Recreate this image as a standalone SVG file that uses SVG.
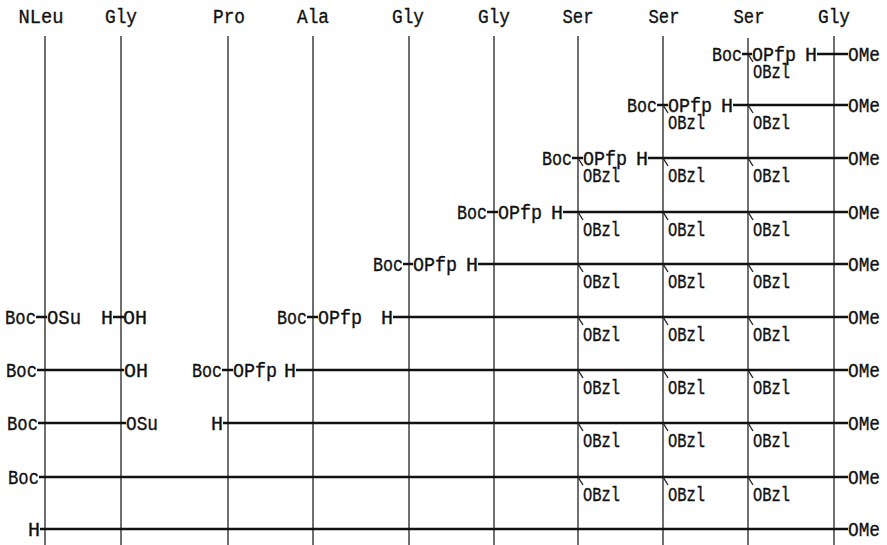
<svg xmlns="http://www.w3.org/2000/svg" width="887" height="545" viewBox="0 0 887 545">
<style>
.t{font-family:"Liberation Mono","DejaVu Sans Mono",monospace;font-size:20px;fill:#111;stroke:#111;stroke-width:0.35}
.hd{text-anchor:middle}
.h{stroke:#111;stroke-width:2.5;fill:none}
.v{stroke:#222;stroke-width:1.3;fill:none}
.k{stroke:#222;stroke-width:1.4;fill:none}
</style>
<defs>
<g id="obzl"><path class="k" d="M0 0 L5 8"/><text class="t" x="5" y="24" textLength="37" lengthAdjust="spacingAndGlyphs">OBzl</text></g>
</defs>
<rect width="887" height="545" fill="#fff"/>
<g id="headers">
<text class="t hd" x="41" y="23" textLength="45" lengthAdjust="spacingAndGlyphs">NLeu</text>
<text class="t hd" x="121" y="23" textLength="32" lengthAdjust="spacingAndGlyphs">Gly</text>
<text class="t hd" x="229" y="23" textLength="32" lengthAdjust="spacingAndGlyphs">Pro</text>
<text class="t hd" x="313" y="23" textLength="32" lengthAdjust="spacingAndGlyphs">Ala</text>
<text class="t hd" x="408" y="23" textLength="32" lengthAdjust="spacingAndGlyphs">Gly</text>
<text class="t hd" x="494" y="23" textLength="32" lengthAdjust="spacingAndGlyphs">Gly</text>
<text class="t hd" x="578" y="23" textLength="31" lengthAdjust="spacingAndGlyphs">Ser</text>
<text class="t hd" x="664" y="23" textLength="31" lengthAdjust="spacingAndGlyphs">Ser</text>
<text class="t hd" x="749" y="23" textLength="31" lengthAdjust="spacingAndGlyphs">Ser</text>
<text class="t hd" x="834" y="23" textLength="32" lengthAdjust="spacingAndGlyphs">Gly</text>
</g>
<g id="connectors">
<g id="columns">
<line class="v" x1="45" y1="36" x2="45" y2="545"/>
<line class="v" x1="121" y1="36" x2="121" y2="545"/>
<line class="v" x1="228" y1="36" x2="228" y2="545"/>
<line class="v" x1="313" y1="36" x2="313" y2="545"/>
<line class="v" x1="409" y1="36" x2="409" y2="545"/>
<line class="v" x1="494" y1="36" x2="494" y2="545"/>
<line class="v" x1="578" y1="36" x2="578" y2="545"/>
<line class="v" x1="663" y1="36" x2="663" y2="545"/>
<line class="v" x1="748" y1="38" x2="748" y2="545"/>
<line class="v" x1="834" y1="36" x2="834" y2="545"/>
</g>
<g id="bonds">
<line class="h" x1="742" y1="54" x2="752" y2="54"/>
<line class="h" x1="817" y1="54" x2="848" y2="54"/>
<line class="h" x1="657" y1="105" x2="668" y2="105"/>
<line class="h" x1="733" y1="105" x2="848" y2="105"/>
<line class="h" x1="572" y1="158" x2="583" y2="158"/>
<line class="h" x1="648" y1="158" x2="848" y2="158"/>
<line class="h" x1="487" y1="212" x2="498" y2="212"/>
<line class="h" x1="563" y1="212" x2="848" y2="212"/>
<line class="h" x1="403" y1="264" x2="413" y2="264"/>
<line class="h" x1="478" y1="264" x2="848" y2="264"/>
<line class="h" x1="36" y1="317" x2="47" y2="317"/>
<line class="h" x1="113" y1="317" x2="124" y2="317"/>
<line class="h" x1="307" y1="317" x2="318" y2="317"/>
<line class="h" x1="393" y1="317" x2="848" y2="317"/>
<line class="h" x1="37" y1="370" x2="124" y2="370"/>
<line class="h" x1="222" y1="370" x2="233" y2="370"/>
<line class="h" x1="296" y1="370" x2="848" y2="370"/>
<line class="h" x1="38" y1="423" x2="126" y2="423"/>
<line class="h" x1="223" y1="423" x2="848" y2="423"/>
<line class="h" x1="39" y1="477" x2="848" y2="477"/>
<line class="h" x1="40" y1="529" x2="848" y2="529"/>
</g>
</g>
<g id="row1">
<text class="t" x="712" y="61" textLength="30" lengthAdjust="spacingAndGlyphs">Boc</text>
<text class="t" x="752" y="61" textLength="44" lengthAdjust="spacingAndGlyphs">OPfp</text>
<text class="t" x="805" y="61" textLength="12" lengthAdjust="spacingAndGlyphs">H</text>
<text class="t" x="848" y="61" textLength="32" lengthAdjust="spacingAndGlyphs">OMe</text>
<use href="#obzl" x="748" y="54"/>
</g>
<g id="row2">
<text class="t" x="627" y="112" textLength="30" lengthAdjust="spacingAndGlyphs">Boc</text>
<text class="t" x="668" y="112" textLength="44" lengthAdjust="spacingAndGlyphs">OPfp</text>
<text class="t" x="721" y="112" textLength="12" lengthAdjust="spacingAndGlyphs">H</text>
<text class="t" x="848" y="112" textLength="32" lengthAdjust="spacingAndGlyphs">OMe</text>
<use href="#obzl" x="663" y="105"/>
<use href="#obzl" x="748" y="105"/>
</g>
<g id="row3">
<text class="t" x="542" y="165" textLength="30" lengthAdjust="spacingAndGlyphs">Boc</text>
<text class="t" x="583" y="165" textLength="44" lengthAdjust="spacingAndGlyphs">OPfp</text>
<text class="t" x="636" y="165" textLength="12" lengthAdjust="spacingAndGlyphs">H</text>
<text class="t" x="848" y="165" textLength="32" lengthAdjust="spacingAndGlyphs">OMe</text>
<use href="#obzl" x="578" y="158"/>
<use href="#obzl" x="663" y="158"/>
<use href="#obzl" x="748" y="158"/>
</g>
<g id="row4">
<text class="t" x="457" y="219" textLength="30" lengthAdjust="spacingAndGlyphs">Boc</text>
<text class="t" x="498" y="219" textLength="44" lengthAdjust="spacingAndGlyphs">OPfp</text>
<text class="t" x="551" y="219" textLength="12" lengthAdjust="spacingAndGlyphs">H</text>
<text class="t" x="848" y="219" textLength="32" lengthAdjust="spacingAndGlyphs">OMe</text>
<use href="#obzl" x="578" y="212"/>
<use href="#obzl" x="663" y="212"/>
<use href="#obzl" x="748" y="212"/>
</g>
<g id="row5">
<text class="t" x="373" y="271" textLength="30" lengthAdjust="spacingAndGlyphs">Boc</text>
<text class="t" x="413" y="271" textLength="44" lengthAdjust="spacingAndGlyphs">OPfp</text>
<text class="t" x="466" y="271" textLength="12" lengthAdjust="spacingAndGlyphs">H</text>
<text class="t" x="848" y="271" textLength="32" lengthAdjust="spacingAndGlyphs">OMe</text>
<use href="#obzl" x="578" y="264"/>
<use href="#obzl" x="663" y="264"/>
<use href="#obzl" x="748" y="264"/>
</g>
<g id="row6">
<text class="t" x="5" y="324" textLength="31" lengthAdjust="spacingAndGlyphs">Boc</text>
<text class="t" x="47" y="324" textLength="34" lengthAdjust="spacingAndGlyphs">OSu</text>
<text class="t" x="101" y="324" textLength="12" lengthAdjust="spacingAndGlyphs">H</text>
<text class="t" x="123" y="324" textLength="24" lengthAdjust="spacingAndGlyphs">OH</text>
<text class="t" x="277" y="324" textLength="30" lengthAdjust="spacingAndGlyphs">Boc</text>
<text class="t" x="318" y="324" textLength="44" lengthAdjust="spacingAndGlyphs">OPfp</text>
<text class="t" x="381" y="324" textLength="12" lengthAdjust="spacingAndGlyphs">H</text>
<text class="t" x="848" y="324" textLength="32" lengthAdjust="spacingAndGlyphs">OMe</text>
<use href="#obzl" x="578" y="317"/>
<use href="#obzl" x="663" y="317"/>
<use href="#obzl" x="748" y="317"/>
</g>
<g id="row7">
<text class="t" x="6" y="377" textLength="31" lengthAdjust="spacingAndGlyphs">Boc</text>
<text class="t" x="124" y="377" textLength="24" lengthAdjust="spacingAndGlyphs">OH</text>
<text class="t" x="192" y="377" textLength="30" lengthAdjust="spacingAndGlyphs">Boc</text>
<text class="t" x="233" y="377" textLength="44" lengthAdjust="spacingAndGlyphs">OPfp</text>
<text class="t" x="284" y="377" textLength="12" lengthAdjust="spacingAndGlyphs">H</text>
<text class="t" x="848" y="377" textLength="32" lengthAdjust="spacingAndGlyphs">OMe</text>
<use href="#obzl" x="578" y="370"/>
<use href="#obzl" x="663" y="370"/>
<use href="#obzl" x="748" y="370"/>
</g>
<g id="row8">
<text class="t" x="7" y="430" textLength="31" lengthAdjust="spacingAndGlyphs">Boc</text>
<text class="t" x="126" y="430" textLength="32" lengthAdjust="spacingAndGlyphs">OSu</text>
<text class="t" x="211" y="430" textLength="12" lengthAdjust="spacingAndGlyphs">H</text>
<text class="t" x="848" y="430" textLength="32" lengthAdjust="spacingAndGlyphs">OMe</text>
<use href="#obzl" x="578" y="423"/>
<use href="#obzl" x="663" y="423"/>
<use href="#obzl" x="748" y="423"/>
</g>
<g id="row9">
<text class="t" x="8" y="484" textLength="31" lengthAdjust="spacingAndGlyphs">Boc</text>
<text class="t" x="848" y="484" textLength="32" lengthAdjust="spacingAndGlyphs">OMe</text>
<use href="#obzl" x="578" y="477"/>
<use href="#obzl" x="663" y="477"/>
<use href="#obzl" x="748" y="477"/>
</g>
<g id="row10">
<text class="t" x="28" y="536" textLength="12" lengthAdjust="spacingAndGlyphs">H</text>
<text class="t" x="848" y="536" textLength="32" lengthAdjust="spacingAndGlyphs">OMe</text>
</g>
</svg>
